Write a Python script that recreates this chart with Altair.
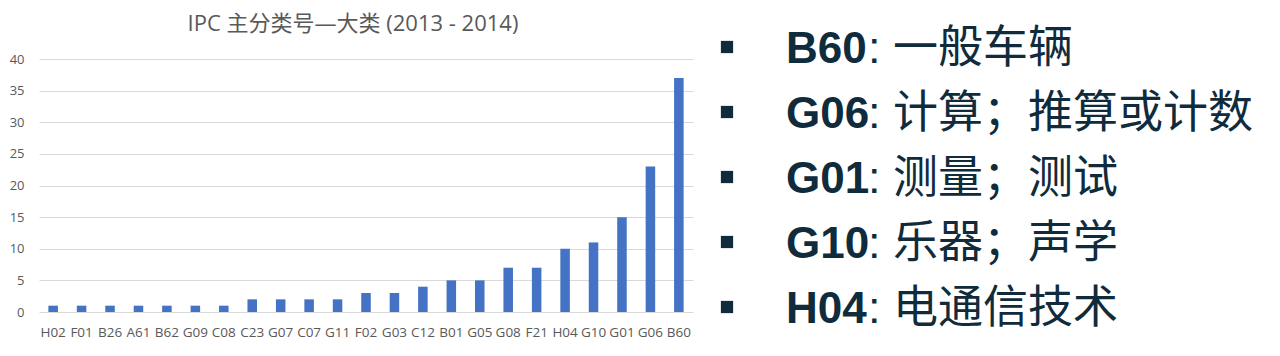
import altair as alt
import pandas as pd

# ---- data ----
categories = ["H02", "F01", "B26", "A61", "B62", "G09", "C08", "C23", "G07", "C07", "G11",
              "F02", "G03", "C12", "B01", "G05", "G08", "F21", "H04", "G10", "G01", "G06", "B60"]
counts = [1, 1, 1, 1, 1, 1, 1, 2, 2, 2, 2, 3, 3, 4, 5, 5, 7, 7, 10, 11, 15, 23, 37]
y_ticks = [0, 5, 10, 15, 20, 25, 30, 35, 40]

codes = ["B60", "G06", "G01", "G10", "H04"]
descs = ["一般车辆", "计算；推算或计数", "测量；测试", "乐器；声学", "电通信技术"]

title_text = "IPC 主分类号—大类 (2013 - 2014)"

bar_df = pd.DataFrame({"cat": categories, "n": counts})
list_df = pd.DataFrame({"code": codes, "label": [": " + d for d in descs]})

GRAY = "#595959"
NAVY = "#0f2b3c"
BLUE = "#4472C4"

bars = alt.Chart(bar_df).mark_bar(color=BLUE).encode(
    x=alt.X("cat:N", sort=categories, title=None,
            scale=alt.Scale(paddingInner=0.665, paddingOuter=0.33),
            axis=alt.Axis(labelAngle=0, labelFont="Open Sans", labelFontSize=13.5,
                          labelColor=GRAY, ticks=False, domain=False, labelPadding=13,
                          grid=False)),
    y=alt.Y("n:Q", title=None, scale=alt.Scale(domain=[0, 40]),
            axis=alt.Axis(values=y_ticks, labelFont="Open Sans", labelFontSize=13,
                          labelColor=GRAY, ticks=False, domain=False, labelPadding=15,
                          grid=True, gridColor="#d9d9d9", gridWidth=1.2)),
)

ysc = alt.Y("code:N", sort=codes, axis=None,
            scale=alt.Scale(type="point", range=[4, 264], padding=0))

bullets = alt.Chart(list_df).mark_square(size=150, color=NAVY, opacity=1, yOffset=-16).encode(
    x=alt.value(688), y=ysc)

code_text = alt.Chart(list_df).mark_text(
    align="left", baseline="alphabetic", font="Liberation Sans", fontWeight="bold",
    fontSize=44, color=NAVY).encode(x=alt.value(747), y=ysc, text="code:N")

desc_text = alt.Chart(list_df).mark_text(
    align="left", baseline="alphabetic", font="Liberation Sans, Noto Sans CJK SC",
    fontSize=45, color=NAVY).encode(x=alt.value(829), y=ysc, text="label:N")

chart = alt.layer(bars, bullets, code_text, desc_text).resolve_scale(
    x="independent", y="independent"
).properties(
    width=654, height=253,
    padding={"left": 1, "top": 5, "right": 5, "bottom": 5},
    title=alt.TitleParams(title_text, font="Open Sans, Noto Sans CJK SC", fontSize=22,
                          fontWeight="normal", color=GRAY, frame="group",
                          anchor="middle", dx=-13, offset=-9),
    background="white",
).configure_view(stroke=None)

chart.save("out.html", embed_options={"renderer": "svg", "actions": False})
